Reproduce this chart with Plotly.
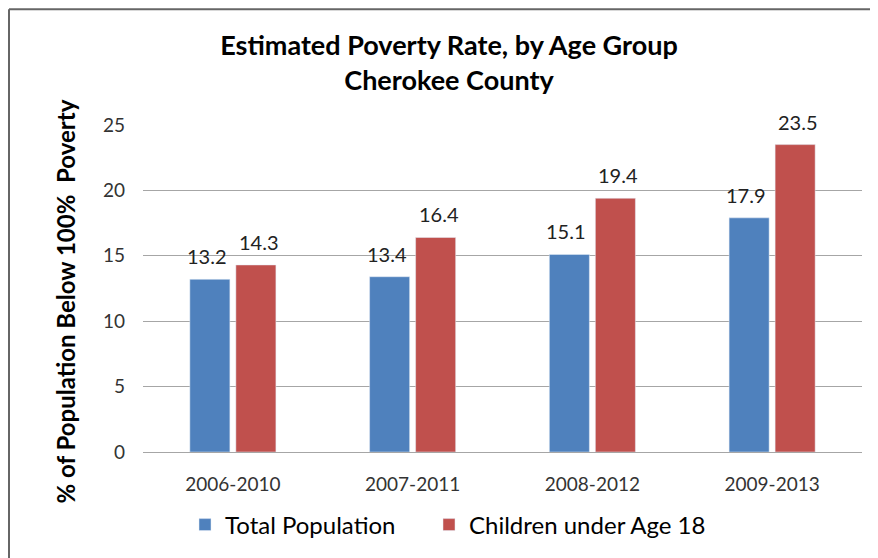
import plotly.graph_objects as go

periods = ["2006-2010", "2007-2011", "2008-2012", "2009-2013"]
total_population = [13.2, 13.4, 15.1, 17.9]
children_under_18 = [14.3, 16.4, 19.4, 23.5]
y_ticks = [0, 5, 10, 15, 20, 25]

FONT = "Lato, Carlito, Calibri, sans-serif"

fig = go.Figure()
fig.add_trace(go.Bar(
    name="Total Population", x=periods, y=total_population,
    marker=dict(color="#4F81BD"), legend="legend",
))
fig.add_trace(go.Bar(
    name="Children under Age 18", x=periods, y=children_under_18,
    marker=dict(color="#C0504D"), legend="legend2",
))

# data labels above each bar
for series, dx in ((total_population, -26), (children_under_18, 26)):
    for p, v in zip(periods, series):
        fig.add_annotation(x=p, y=v, xref="x", yref="y", text=f"{v:.1f}",
                           showarrow=False, yanchor="bottom", xshift=dx, yshift=9,
                           font=dict(size=20, color="#222222", family=FONT))

# page body has an 8px margin, so the figure is 870x550 placed at (8, 8)
W, H = 870, 550
L, R, T, B = 135, 16, 117, 105
pw, ph = W - L - R, H - T - B

fig.add_annotation(x=(57 - L) / pw, y=(H - B - 294) / ph, xref="paper", yref="paper",
                   text="<b>% of Population Below 100%  Poverty</b>", textangle=-90,
                   showarrow=False, xanchor="center", yanchor="middle",
                   font=dict(size=24, color="#000000", family=FONT))

legend_common = dict(orientation="h", xanchor="left", y=-(517 - 445) / ph, yanchor="middle",
                     font=dict(size=24, color="#000000", family=FONT),
                     bgcolor="rgba(0,0,0,0)")

fig.update_layout(
    width=W, height=H,
    margin=dict(l=L, r=R, t=T, b=B, pad=0),
    paper_bgcolor="white", plot_bgcolor="white",
    font=dict(family=FONT, color="#222222"),
    barmode="group", bargap=0.488, bargroupgap=0.13,
    title=dict(
        text="<b>Estimated Poverty Rate, by Age Group<br>Cherokee County</b>",
        x=441 / W, xanchor="center", y=1 - 47 / H, yanchor="middle",
        font=dict(size=27, color="#000000", family=FONT),
    ),
    yaxis=dict(
        range=[0, 25], tickvals=y_ticks, ticktext=[str(t) for t in y_ticks],
        showgrid=True, gridcolor="#A6A6A6", gridwidth=1,
        zeroline=False, showline=False, ticks="", ticklen=0,
        tickfont=dict(size=19, color="#333333"), ticklabelstandoff=17,
    ),
    xaxis=dict(
        showline=True, linecolor="#A6A6A6", linewidth=1, ticks="",
        tickfont=dict(size=19, color="#333333"), ticklabelstandoff=15,
    ),
    legend=dict(x=(177 - L) / pw, **legend_common),
    legend2=dict(x=(421 - L) / pw, **legend_common),
    showlegend=True,
)

# outer chart frame (left and top edges visible)
fig.add_shape(type="line", xref="paper", yref="paper",
              x0=(1 - L) / pw, x1=(W + 5 - L) / pw, y0=(H - B - 1) / ph, y1=(H - B - 1) / ph,
              line=dict(color="#666666", width=2))
fig.add_shape(type="line", xref="paper", yref="paper",
              x0=(1 - L) / pw, x1=(1 - L) / pw, y0=(H - B - 1) / ph, y1=-(B + 5) / ph,
              line=dict(color="#666666", width=2))

fig.write_html("out.html")
